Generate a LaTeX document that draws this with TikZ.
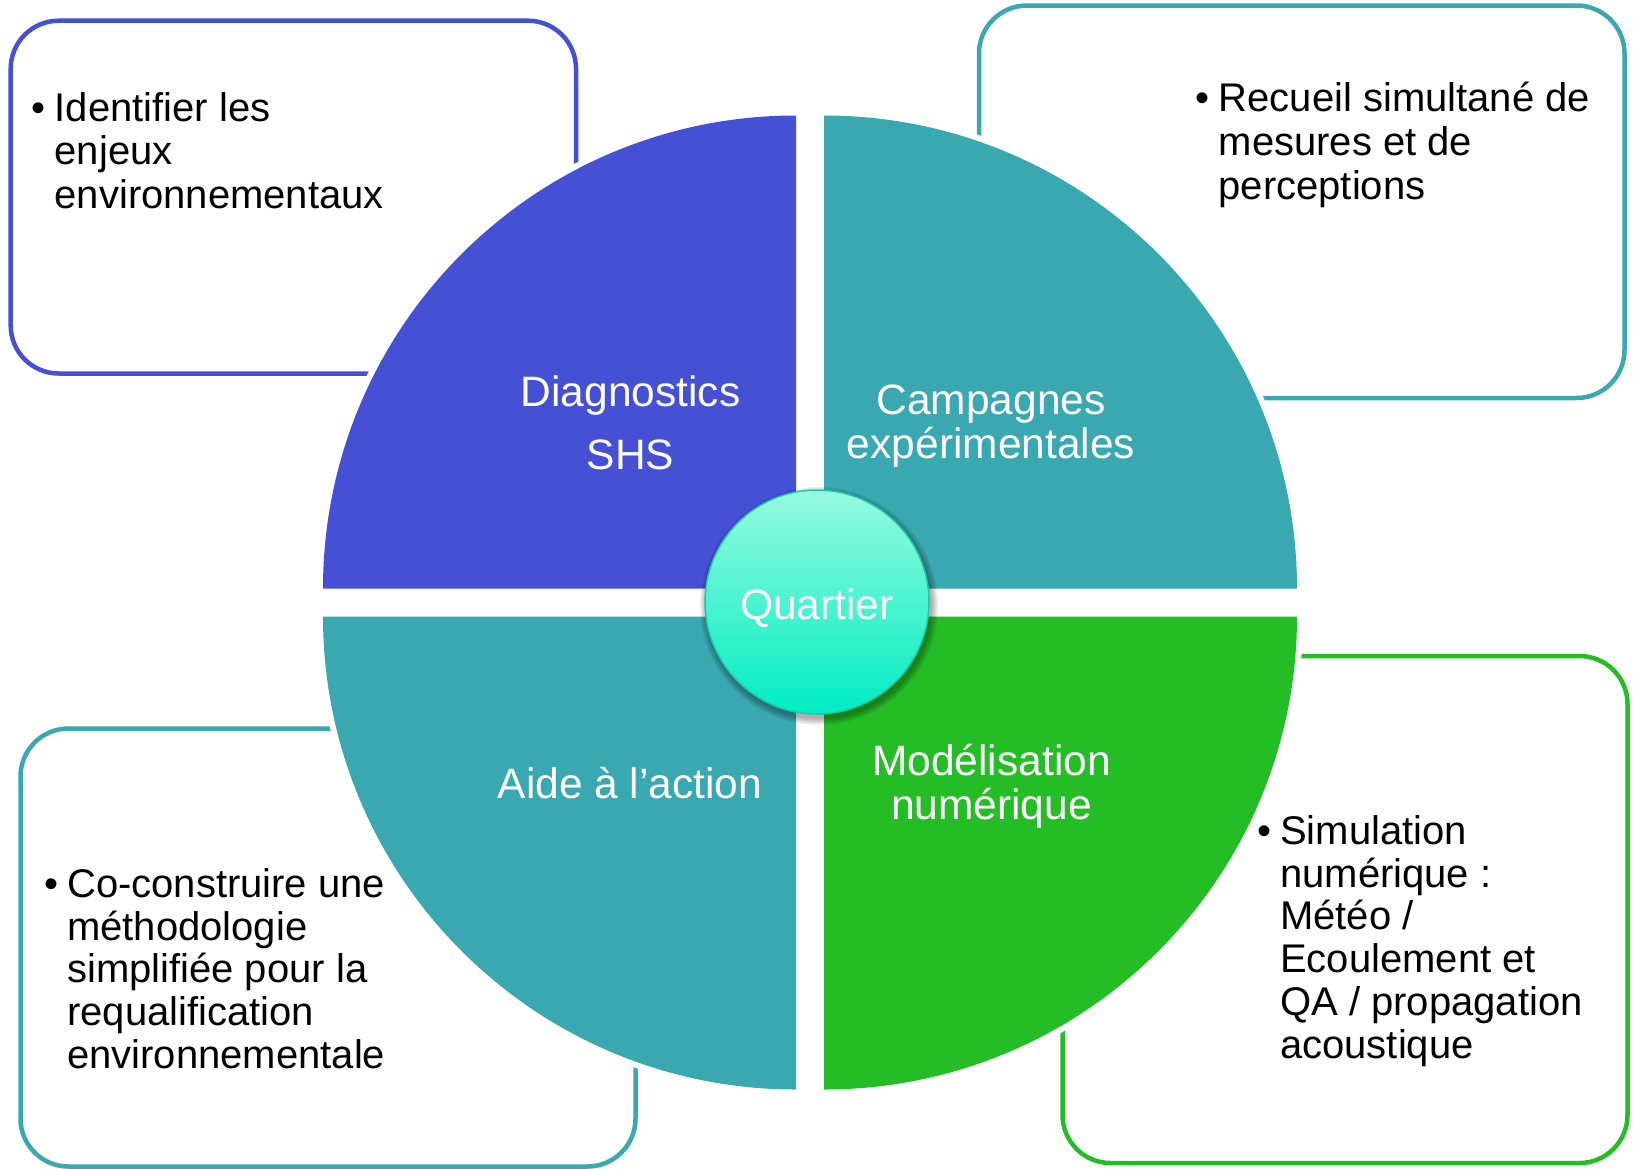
\documentclass[tikz,border=0pt]{standalone}
\usepackage{fontspec}
\setmainfont{Liberation Sans}
\definecolor{qblue}{HTML}{4550D5}
\definecolor{qteal}{HTML}{39A8B0}
\definecolor{qgreen}{HTML}{25BD26}
\definecolor{ctop}{HTML}{97FADF}
\definecolor{cbot}{HTML}{00EDC3}
\definecolor{cedge}{HTML}{1FC9A4}
\newcommand\qlines[1]{\begin{tabular}[t]{@{}c@{}}#1\end{tabular}}
\newcommand\blines[1]{\begin{tabular}[t]{@{}p{23pt}@{}l@{}}#1\end{tabular}}
\begin{document}
\begin{tikzpicture}[x=1pt,y=1pt,
  infobox/.style={rectangle, rounded corners=48pt, line width=4.5pt, fill=white, inner sep=0pt},
  halo/.style={draw=white, line width=12pt},
  qlabel/.style={anchor=base, inner sep=0pt, text=white, font=\fontsize{42.5}{44}\selectfont},
  btext/.style={anchor=base west, inner sep=0pt, text=black},
  softshadow/.style={fill=black, fill opacity=0.07},
  hub/.style={circle, minimum size=224pt, inner sep=0pt, top color=ctop, bottom color=cbot,
    draw=cedge, line width=1.5pt, text=white, font=\fontsize{42.5}{44}\selectfont,
    text height=35pt, text depth=0pt}
]
\useasboundingbox[fill=white] (0,0) rectangle (1633,-1168);

% corner boxes
\node[infobox, draw=qblue, minimum width=565.3pt, minimum height=352.8pt] (b1) at (293.35,-197.1) {};
\node[infobox, draw=qteal, minimum width=645.5pt, minimum height=392.5pt] (b2) at (1301.75,-201.75) {};
\node[infobox, draw=qteal, minimum width=615pt, minimum height=438pt] (b3) at (328,-947.5) {};
\node[infobox, draw=qgreen, minimum width=565pt, minimum height=507pt] (b4) at (1345,-909.5) {};

% white halos of the quadrants
\path[halo] (796,-588.5) -- (323,-588.5) arc[start angle=180, end angle=90, radius=473pt] -- cycle;
\path[halo] (824,-588.5) -- (824,-115.5) arc[start angle=90, end angle=0, radius=473pt] -- cycle;
\path[halo] (796,-616.5) -- (323,-616.5) arc[start angle=180, end angle=270, radius=473pt] -- cycle;
\path[halo] (824,-616.5) -- (1297,-616.5) arc[start angle=0, end angle=-90, radius=473pt] -- cycle;

% quadrants
\fill[qblue] (796,-588.5) -- (323,-588.5) arc[start angle=180, end angle=90, radius=473pt] -- cycle;
\fill[qteal] (824,-588.5) -- (824,-115.5) arc[start angle=90, end angle=0, radius=473pt] -- cycle;
\fill[qteal] (796,-616.5) -- (323,-616.5) arc[start angle=180, end angle=270, radius=473pt] -- cycle;
\fill[qgreen] (824,-616.5) -- (1297,-616.5) arc[start angle=0, end angle=-90, radius=473pt] -- cycle;

% quadrant labels
\node[qlabel] (ldiag) at (630.5,-406) {\qlines{Diagnostics\\[19.5pt]SHS}};
\node[qlabel] (lcamp) at (991,-414.4) {\qlines{Campagnes\\expérimentales}};
\node[qlabel] (laide) at (630,-798) {\qlines{Aide à l’action}};
\node[qlabel] (lmod) at (991.5,-775) {\qlines{Modélisation\\numérique}};

% soft shadow of the centre disc
\foreach \r in {113,114.5,116,117.5,119}
  \fill[softshadow] (819,-606) circle[radius=\r pt];

% centre
\node[hub] (q) at (817,-602) {Quartier};

% bullet texts
\node[btext, font=\fontsize{40}{43.7}\selectfont] (t1) at (31.5,-121)
  {\blines{•&Identifier les\\&enjeux\\&environnementaux}};
\node[btext, font=\fontsize{40}{44.3}\selectfont] (t2) at (1195.5,-111)
  {\blines{•&Recueil simultané de\\&mesures et de\\&perceptions}};
\node[btext, font=\fontsize{40}{42.7}\selectfont] (t3) at (44,-897.5)
  {\blines{•&Co-construire une\\&méthodologie\\&simplifiée pour la\\&requalification\\&environnementale}};
\node[btext, font=\fontsize{40}{42.7}\selectfont] (t4) at (1257,-844.5)
  {\blines{•&Simulation\\&numérique :\\&Météo /\\&Ecoulement et\\&QA / propagation\\&acoustique}};
\end{tikzpicture}
\end{document}
